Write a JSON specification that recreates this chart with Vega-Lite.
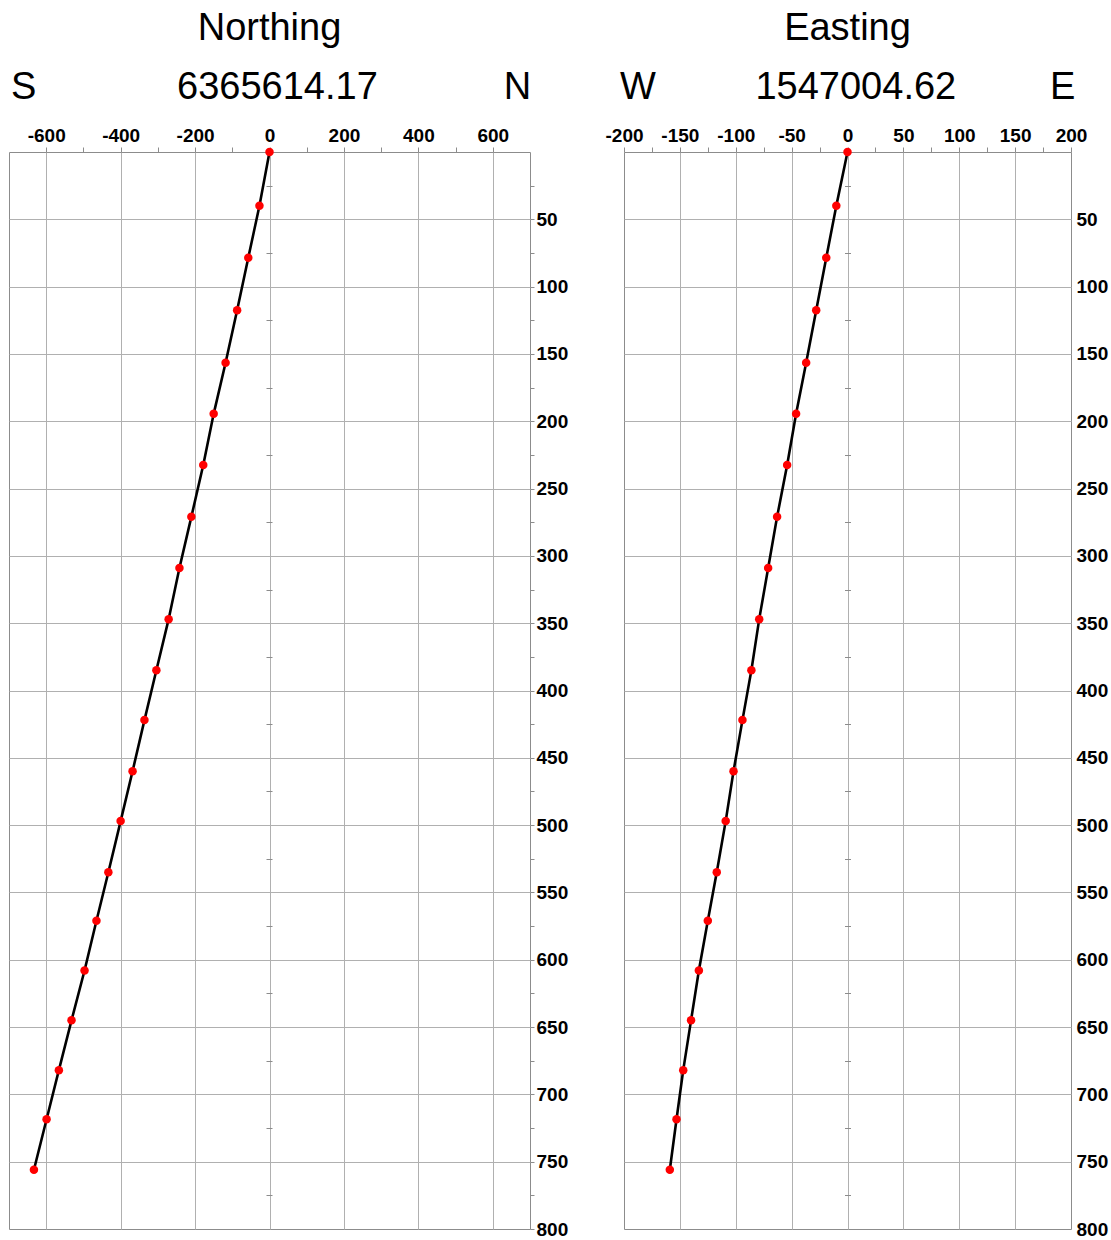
{
  "$schema": "https://vega.github.io/schema/vega-lite/v6.json",
  "background": "white",
  "padding": {"left": 8, "top": 9, "right": 0, "bottom": 0},
  "config": {
    "font": "Liberation Sans",
    "view": {"stroke": "#8c8c8c", "strokeWidth": 1},
    "axis": {"domain": false, "labelFont": "Liberation Sans", "labelFontSize": 19, "labelFontWeight": "bold", "labelColor": "black", "tickColor": "#8c8c8c", "gridColor": "#b0b0b0", "gridWidth": 1, "labelOverlap": false, "labelFlush": false, "labelBound": false, "labelLimit": 0},
    "title": {"font": "Liberation Sans", "fontSize": 38, "fontWeight": "normal", "color": "black", "anchor": "middle", "offset": 20}
  },
  "data": {"values": [
    {"tvd": 0, "north": 0, "east": 0},
    {"tvd": 40, "north": -27, "east": -10},
    {"tvd": 78.5, "north": -57, "east": -19},
    {"tvd": 117.5, "north": -87, "east": -28},
    {"tvd": 156.5, "north": -118, "east": -37},
    {"tvd": 194.5, "north": -150, "east": -46},
    {"tvd": 232.5, "north": -178, "east": -54},
    {"tvd": 271, "north": -210, "east": -63},
    {"tvd": 309, "north": -242, "east": -71},
    {"tvd": 347, "north": -271, "east": -79},
    {"tvd": 385, "north": -304, "east": -86},
    {"tvd": 422, "north": -336, "east": -94},
    {"tvd": 460, "north": -368, "east": -102},
    {"tvd": 497, "north": -400, "east": -109},
    {"tvd": 535, "north": -433, "east": -117},
    {"tvd": 571, "north": -465, "east": -125},
    {"tvd": 608, "north": -497, "east": -133},
    {"tvd": 645, "north": -532, "east": -140},
    {"tvd": 682, "north": -566, "east": -147},
    {"tvd": 718.5, "north": -599, "east": -153},
    {"tvd": 756, "north": -633, "east": -159}
  ]},
  "spacing": 94,
  "bounds": "flush",
  "hconcat": [
    {
      "width": 521,
      "height": 1077,
      "title": {"text": "Northing"},
      "resolve": {"axis": {"x": "independent", "y": "independent"}},
      "layer": [
        {
          "mark": {"type": "line", "color": "black", "strokeWidth": 2.6},
          "encoding": {
            "x": {"field": "north", "type": "quantitative", "scale": {"domain": [-700, 700], "nice": false, "zero": false},
              "axis": {"orient": "top", "title": null, "values": [-600, -500, -400, -300, -200, -100, 0, 100, 200, 300, 400, 500, 600],
                "labelExpr": "datum.value % 200 === 0 ? (datum.value < 0 ? '-' + abs(datum.value) : '' + datum.value) : ''",
                "tickSize": 5, "labelPadding": 2, "grid": true,
                "gridOpacity": {"condition": {"test": "datum.value % 200 !== 0", "value": 0}, "value": 1}}},
            "y": {"field": "tvd", "type": "quantitative", "scale": {"domain": [0, 800], "reverse": true, "nice": false, "zero": false},
              "axis": {"orient": "right", "title": null, "values": [25, 50, 75, 100, 125, 150, 175, 200, 225, 250, 275, 300, 325, 350, 375, 400, 425, 450, 475, 500, 525, 550, 575, 600, 625, 650, 675, 700, 725, 750, 775, 800],
                "labelExpr": "datum.value % 50 === 0 ? '' + datum.value : ''",
                "tickSize": 4, "labelPadding": 2, "labelBaseline": "middle", "grid": true,
                "gridOpacity": {"condition": {"test": "datum.value % 50 !== 0 || datum.value >= 800", "value": 0}, "value": 1}}},
            "order": {"field": "tvd", "type": "quantitative"}
          }
        },
        {
          "mark": {"type": "circle", "color": "#ff0000", "size": 72, "opacity": 1},
          "encoding": {
            "x": {"field": "north", "type": "quantitative",
              "axis": {"orient": "top", "title": null, "values": [-662, 20, 665],
                "labelExpr": "datum.value < -100 ? 'S' : datum.value > 100 ? 'N' : '6365614.17'",
                "labelFontSize": 38, "labelFontWeight": "normal", "ticks": false, "tickSize": 0, "grid": false, "labelPadding": 46}},
            "y": {"field": "tvd", "type": "quantitative",
              "axis": {"orient": "left", "title": null, "offset": -263, "values": [25, 75, 125, 175, 225, 275, 325, 375, 425, 475, 525, 575, 625, 675, 725, 775],
                "labels": false, "grid": false, "tickSize": 6}}
          }
        }
      ]
    },
    {
      "width": 447,
      "height": 1077,
      "title": {"text": "Easting"},
      "resolve": {"axis": {"x": "independent", "y": "independent"}},
      "layer": [
        {
          "mark": {"type": "line", "color": "black", "strokeWidth": 2.6},
          "encoding": {
            "x": {"field": "east", "type": "quantitative", "scale": {"domain": [-200, 200], "nice": false, "zero": false},
              "axis": {"orient": "top", "title": null, "values": [-200, -175, -150, -125, -100, -75, -50, -25, 0, 25, 50, 75, 100, 125, 150, 175, 200],
                "labelExpr": "datum.value % 50 === 0 ? (datum.value < 0 ? '-' + abs(datum.value) : '' + datum.value) : ''",
                "tickSize": 5, "labelPadding": 2, "grid": true,
                "gridOpacity": {"condition": {"test": "datum.value % 50 !== 0 || abs(datum.value) >= 200", "value": 0}, "value": 1}}},
            "y": {"field": "tvd", "type": "quantitative", "scale": {"domain": [0, 800], "reverse": true, "nice": false, "zero": false},
              "axis": {"orient": "right", "title": null, "values": [50, 100, 150, 200, 250, 300, 350, 400, 450, 500, 550, 600, 650, 700, 750, 800],
                "ticks": false, "tickSize": 0, "labelPadding": 5, "labelBaseline": "middle", "grid": true,
                "gridOpacity": {"condition": {"test": "datum.value >= 800", "value": 0}, "value": 1}}},
            "order": {"field": "tvd", "type": "quantitative"}
          }
        },
        {
          "mark": {"type": "circle", "color": "#ff0000", "size": 72, "opacity": 1},
          "encoding": {
            "x": {"field": "east", "type": "quantitative",
              "axis": {"orient": "top", "title": null, "values": [-188, 7, 192],
                "labelExpr": "datum.value < -100 ? 'W' : datum.value > 100 ? 'E' : '1547004.62'",
                "labelFontSize": 38, "labelFontWeight": "normal", "ticks": false, "tickSize": 0, "grid": false, "labelPadding": 46}},
            "y": {"field": "tvd", "type": "quantitative",
              "axis": {"orient": "left", "title": null, "offset": -226.5, "values": [25, 75, 125, 175, 225, 275, 325, 375, 425, 475, 525, 575, 625, 675, 725, 775],
                "labels": false, "grid": false, "tickSize": 6}}
          }
        }
      ]
    }
  ]
}
